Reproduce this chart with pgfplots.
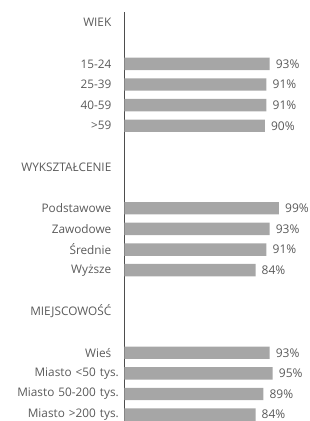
\documentclass[border=0pt]{standalone}
\usepackage{pgfplots}
\pgfplotsset{compat=1.18}
\usepackage{fontspec}
\setmainfont{Open Sans}
\definecolor{bargray}{HTML}{A6A6A6}
\definecolor{txt}{HTML}{5A5A5A}
\definecolor{axisline}{HTML}{4D4D4D}
\newcommand{\gapp}{\hspace*{7.5pt}}
\begin{document}
\begin{tikzpicture}[x=1pt,y=1pt]
\path[use as bounding box] (0,0) rectangle (310,421);
\begin{axis}[
  at={(124.5pt,408.7pt)}, anchor=north west,
  scale only axis, width=156pt, height=408.7pt,
  xmin=0, xmax=100, ymin=-0.5, ymax=19.31, y dir=reverse,
  axis x line=none, axis y line=left,
  y axis line style={-, draw=axisline, line width=0.8pt},
  /pgf/number format/assume math mode=true,
  ytick={0,2,3,4,5,7,9,10,11,12,14,16,17,18,19},
  yticklabels={WIEK\gapp,15-24\gapp,25-39\gapp,40-59\gapp,>59\gapp,WYKSZTAŁCENIE\gapp,Podstawowe\gapp,Zawodowe\gapp,Średnie\gapp,Wyższe\gapp,MIEJSCOWOŚĆ\gapp,Wieś\gapp,{Miasto\hspace{4pt}<50\hspace{4pt}tys.},{Miasto\hspace{4pt}50-200\hspace{4pt}tys.},{Miasto\hspace{4pt}>200\hspace{4pt}tys.}},
  major tick length=0,
  yticklabel style={font=\fontsize{11.8}{13}\selectfont, text=txt, anchor=east, inner sep=0pt, xshift=-5.5pt},
  xbar, bar width=12.4pt,
  nodes near coords={\pgfmathprintnumber{\pgfplotspointmeta}\%},
  nodes near coords style={font=\fontsize{12}{13}\selectfont, text=txt, anchor=west, inner sep=0pt, xshift=6pt},
  clip=false,
]
\addplot[fill=bargray, draw=none] coordinates {
  (93,2) (91,3) (91,4) (90,5)
  (99,9) (93,10) (91,11) (84,12)
  (93,16) (95,17) (89,18) (84,19)
};
\end{axis}
\end{tikzpicture}
\end{document}
